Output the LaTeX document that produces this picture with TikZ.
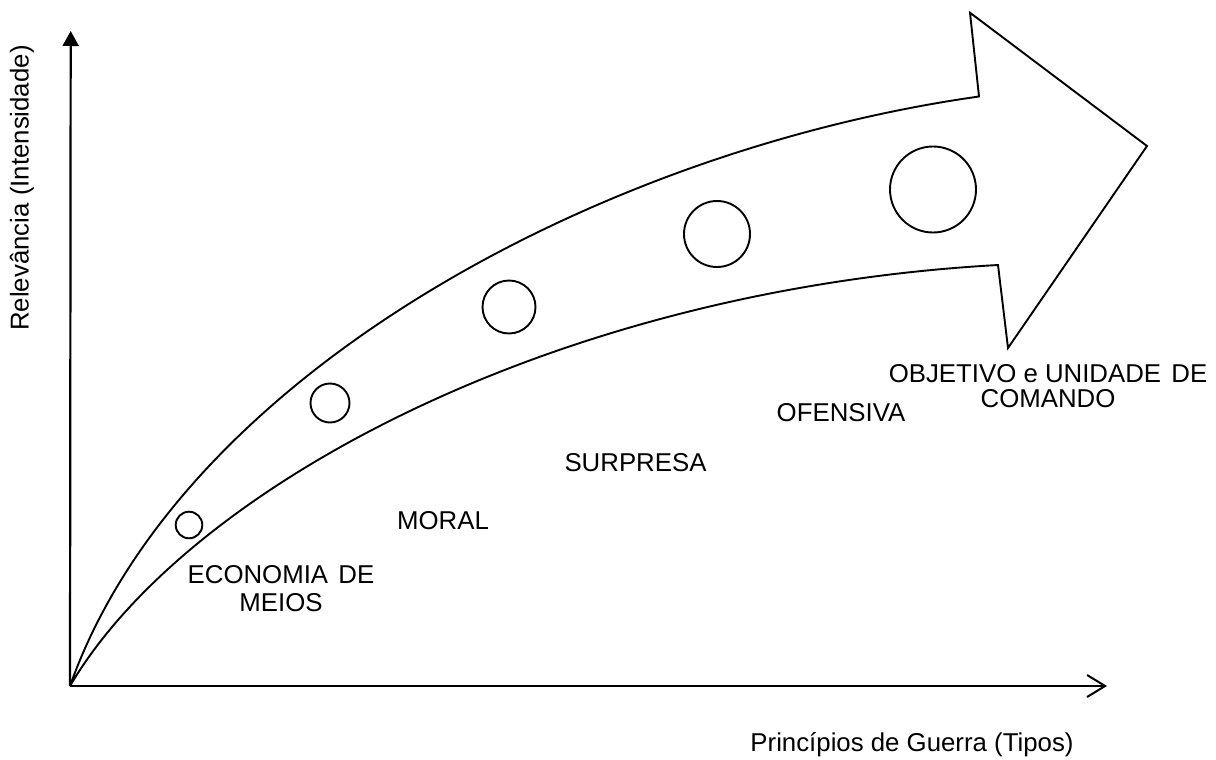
\documentclass[tikz,border=0pt]{standalone}
\usepackage{fontspec}
\setmainfont{Liberation Sans}
\usetikzlibrary{arrows.meta}
\tikzset{
  lbl/.style={inner sep=0pt, font=\fontsize{25.8}{28}\selectfont, align=center},
  shape line/.style={line width=1.9pt, line join=miter},
  axis line/.style={line width=2.2pt},
  dot/.style={circle, draw, line width=1.9pt, inner sep=0pt, minimum size=#1}
}
\begin{document}
\begin{tikzpicture}[x=1pt,y=-1pt]
\useasboundingbox (0,0) rectangle (1216,760);
% key points
\coordinate (O) at (70,686);
\coordinate (ytop) at (70.7,31);
\coordinate (xend) at (1107,686);
\coordinate (n1) at (979,96.5);
\coordinate (b1) at (970,12.7);
\coordinate (tip) at (1147,146);
\coordinate (b2) at (1008,348);
\coordinate (n2) at (998,265);
% axes
\draw[axis line, -{Triangle[length=15pt,width=16pt]}] (O) -- (ytop);
\draw[axis line, -{Straight Barb[length=18pt,width=22pt,line width=2pt]}] (O) -- (xend);
% arrow band
\draw[shape line] (O) .. controls (180,375) and (600,150) .. (n1)
   -- (b1) -- (tip) -- (b2) -- (n2)
   .. controls (550,290) and (185,490) .. (O);
% circles
\node[dot=26.6pt] (c1) at (189,525) {};
\node[dot=39pt] (c2) at (330,403) {};
\node[dot=53pt] (c3) at (509,307) {};
\node[dot=66pt] (c4) at (717,234) {};
\node[dot=86pt] (c5) at (933,189.5) {};
% labels
\node[lbl] (l1) at (281,588.5) {ECONOMIA\hspace{0.12em} DE\\MEIOS};
\node[lbl] (l2) at (443,520.5) {MORAL};
\node[lbl] (l3) at (635.5,463) {SURPRESA};
\node[lbl] (l4) at (841,413) {OFENSIVA};
\node[lbl, font=\fontsize{25.8}{25}\selectfont] (l5) at (1048,386.5) {OBJETIVO e UNIDADE\hspace{0.12em} DE\\COMANDO};
\node[lbl, rotate=90] (ylab) at (22,188) {Relevância (Intensidade)};
\node[lbl] (xlab) at (912,745) {Princípios de Guerra (Tipos)};
\end{tikzpicture}
\end{document}
